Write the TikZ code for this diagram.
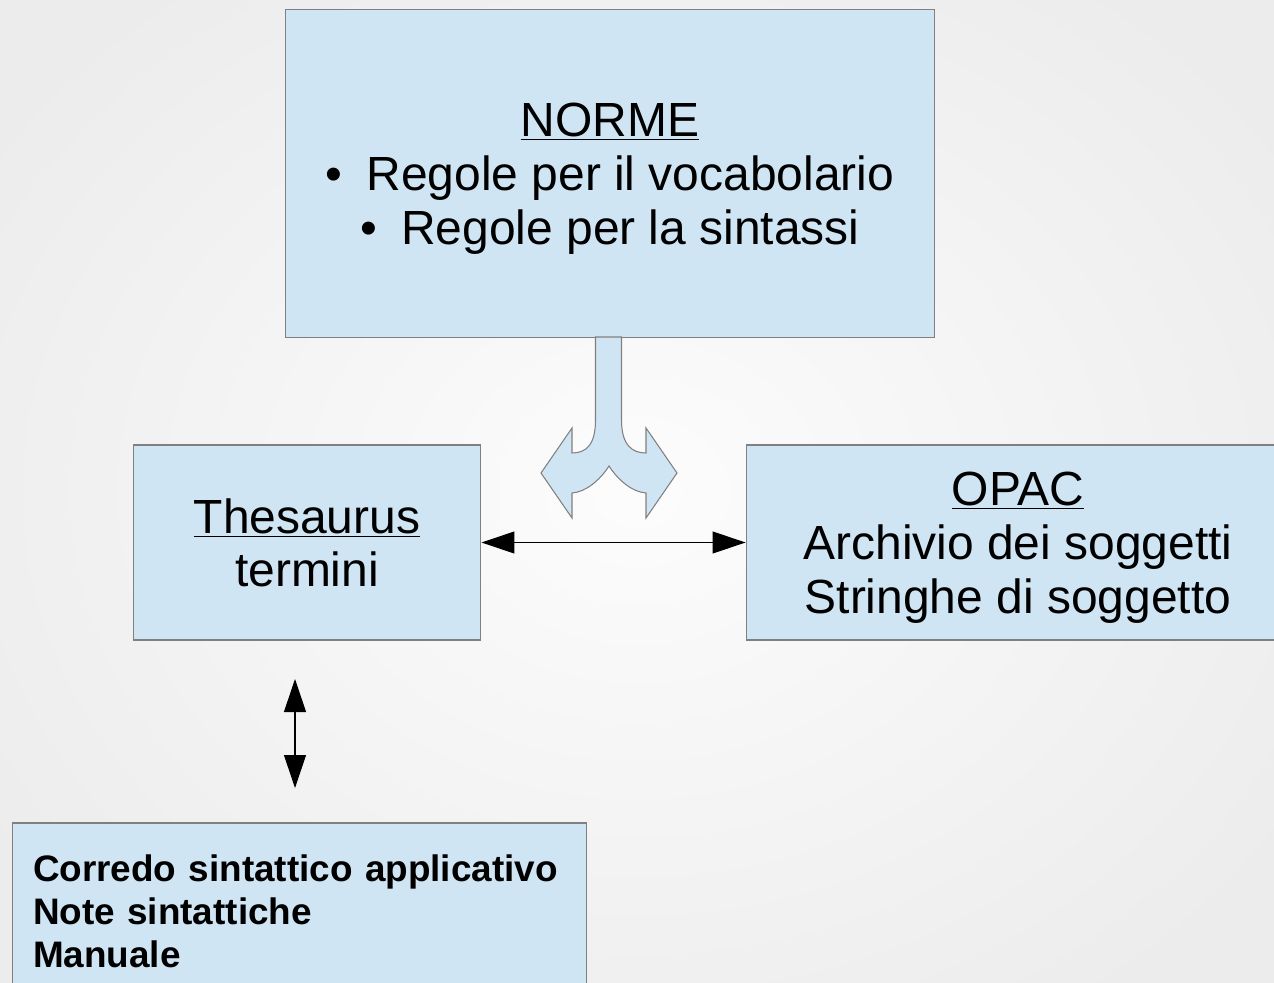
\documentclass[tikz,border=0pt]{standalone}
\usepackage{fontspec}
\setmainfont{Liberation Sans}
\usetikzlibrary{arrows.meta}
\definecolor{boxblue}{HTML}{CFE5F3}
\definecolor{boxline}{HTML}{808080}

\begin{document}
\begin{tikzpicture}[x = 0.02cm, y = -0.02cm,
	bluebox/.style = {draw = boxline, fill = boxblue, line width = 0.6pt, inner sep = 0pt},
	bigtext/.style = {font = \fontsize{27.3}{30.6}\selectfont, text depth = 0pt},
	link/.style = {<->, line width = 0.6pt, >={Triangle[length = 0.66cm, width = 0.44cm]}}]
	
	\useasboundingbox (0,0) rectangle (1274,983);
	\clip (0,0) rectangle (1274,983);
	\shade [inner color = gray!2, outer color = gray!15] (-150,-150) rectangle (1424,1133);
	
	\node [bluebox, bigtext, align = center,
		   minimum width = 13cm,
		   minimum height = 6.58cm] (norme) at (610,173.5)
		   {\underline{NORME}\\ \textbullet\hspace{0.5em}Regole per il vocabolario\\ \textbullet\hspace{0.5em}Regole per la sintassi};
	\node [bluebox, bigtext, align = center,
		   minimum width = 6.96cm,
		   minimum height = 3.9cm] (thes) at (307,542.5)
		   {\underline{Thesaurus}\\ termini};
	\node [bluebox, bigtext, align = center,
		   minimum width = 10.88cm,
		   minimum height = 3.9cm] (opac) at (1018,542.5)
		   {\underline{OPAC}\\ Archivio dei soggetti\\ Stringhe di soggetto};
	\node [bluebox, align = left,
		   font = \fontsize{21}{24.4}\selectfont\bfseries,
		   text width = 10.66cm,
		   inner xsep = 0.42cm,
		   minimum height = 3.52cm] (corredo) at (299.5,911)
		   {Corredo sintattico applicativo\\ Note sintattiche\\ Manuale};
	
	\coordinate (up) at (295,679);
	\coordinate (down) at (295,788);
	
	\draw [link] (thes) -- (opac);
	\draw [link] (up) -- (down);
	
	% split arrow below the rules
	\draw [draw = boxline, fill = boxblue, line width = 0.6pt]
		(595.5,337) -- (595.5,420) .. controls (595.5,445) and (586,453) .. (572,453)
		-- (572,428) -- (541,473) -- (572,518) -- (572,493)
		.. controls (586,492) and (600,480) .. (609,466)
		.. controls (618,480) and (632,492) .. (646,493)
		-- (646,518) -- (677,473) -- (646,428) -- (646,453)
		.. controls (632,453) and (621.5,445) .. (621.5,420) -- (621.5,337) -- cycle;
	
\end{tikzpicture}
\end{document}
